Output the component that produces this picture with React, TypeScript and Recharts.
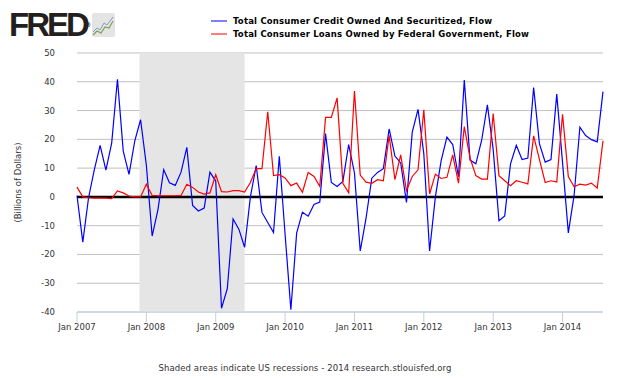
import React from 'react';
import { LineChart, Line, XAxis, YAxis, CartesianGrid, ReferenceArea, ReferenceLine } from 'recharts';

// Monthly flows, Jan 2007 .. Aug 2014 (Billions of Dollars)
const creditSecuritized: number[] = [
  0.5, -15.7, -0.3, 9.5, 17.9, 9.3, 18.7, 40.9, 15.9, 7.8, 19.5, 26.8,
  11, -13.6, -4.5, 9.5, 4.9, 4.0, 8.6, 17.2, -3.0, -4.9, -3.9, 8.6,
  5.5, -38.7, -31.9, -7.7, -11.2, -17.5, 0, 10.9, -5.4, -8.9, -12.4, 14.1,
  -13, -39.2, -12.6, -5.3, -6.7, -2.6, -1.8, 22, 5, 3.6, 5.4, 18.2,
  8.4, -18.8, -7.5, 6.5, 8.5, 9.8, 23.6, 14.2, 11.8, -1.9, 22.5, 30.4,
  15, -18.8, 0, 12.6, 20.8, 18.2, 7, 40.6, 12.8, 11.5, 19.6, 32,
  16.5, -8.3, -6.6, 11.5, 17.9, 13, 13.5, 38, 18.5, 12.1, 13, 35.7,
  12, -12.5, 0.5, 24.2, 21.3, 19.9, 19.1, 36.6,
];

const loansFederal: number[] = [
  3.4, 0, -0.3, -0.4, -0.4, -0.4, -0.6, 2.1, 1.4, 0.3, 0, 0,
  4.4, 0.5, 0.4, 0.4, 0.4, 0.4, 0.5, 4.4, 3.3, 1.7, 1.0, 1.4,
  7.7, 1.8, 1.7, 2.2, 2.2, 1.7, 5, 9.8, 9.8, 29.6, 7.4, 7.7,
  6.6, 3.9, 4.8, 1.6, 8.5, 7.1, 3.7, 27.6, 27.6, 34.4, 4.7, 1.4,
  36.8, 7.6, 5.1, 4.7, 6.0, 5.6, 21.4, 6.0, 14.6, 2.2, 7.1, 9.4,
  30.3, 1.0, 7.9, 6.4, 6.8, 14.6, 4.8, 24.4, 13.5, 7.4, 6.2, 6.2,
  29, 7.4, 5.6, 3.9, 5.6, 5.1, 4.5, 21.2, 13, 5, 5.6, 5.2,
  28.7, 7.1, 3.5, 4.4, 4.1, 4.8, 3.1, 19.5,
];

const xTickIndex: number[] = [0, 12, 24, 36, 48, 60, 72, 84];
const xTickLabels: string[] = ['Jan 2007', 'Jan 2008', 'Jan 2009', 'Jan 2010', 'Jan 2011', 'Jan 2012', 'Jan 2013', 'Jan 2014'];
const yTicks: number[] = [-40, -30, -20, -10, 0, 10, 20, 30, 40, 50];
// Recession: Dec 2007 .. Jun 2009 (month indices)
const recessionStart = 10.8;
const recessionEnd = 29;

const seriesNames = [
  'Total Consumer Credit Owned And Securitized, Flow',
  'Total Consumer Loans Owned by Federal Government, Flow',
];

const data = creditSecuritized.map((v, i) => ({ i, credit: v, federal: loansFederal[i] }));

const font = 'DejaVu Sans, Verdana, sans-serif';

export default function App() {
  return (
    <div style={{ position: 'fixed', left: 0, top: 0, width: 630, height: 378, background: '#fff', fontFamily: font }}>
      <LineChart width={630} height={378} data={data} margin={{ top: 53, right: 27, bottom: 36, left: 0 }}>
        <ReferenceArea x1={recessionStart} x2={recessionEnd} y1={-40} y2={50} fill="#e5e5e5" fillOpacity={1} stroke="none" ifOverflow="hidden" />
        <CartesianGrid vertical={false} stroke="#c0c0c0" strokeDasharray="" />
        <XAxis
          dataKey="i"
          type="number"
          domain={[0, 91]}
          ticks={xTickIndex}
          interval={0}
          tickFormatter={(v: number) => xTickLabels[xTickIndex.indexOf(v)]}
          tickSize={10}
          stroke="#c0d0e0"
          tick={{ fill: '#333', fontSize: 8.5, fontFamily: font }}
          height={30}
        />
        <YAxis
          type="number"
          domain={[-40, 50]}
          ticks={yTicks}
          interval={0}
          axisLine={false}
          tickLine={false}
          tickSize={6}
          tickMargin={16}
          width={77}
          tick={{ fill: '#333', fontSize: 8.5, fontFamily: font }}
          label={{ value: '(Billions of Dollars)', angle: -90, position: 'insideLeft', offset: 18, style: { fill: '#333', fontSize: 8.5, fontFamily: font, textAnchor: 'middle' } }}
        />
        <ReferenceLine y={0} stroke="#000" strokeWidth={2.5} />
        <Line type="linear" dataKey="credit" stroke="#0000ff" strokeWidth={1.2} dot={false} isAnimationActive={false} />
        <Line type="linear" dataKey="federal" stroke="#ff0000" strokeWidth={1.2} dot={false} isAnimationActive={false} />
      </LineChart>

      {/* FRED logo */}
      <div style={{ position: 'absolute', left: 9, top: 5, fontFamily: 'Liberation Sans, Arial, sans-serif', fontWeight: 900, fontSize: 33, letterSpacing: -3, color: '#231f20', lineHeight: '40px' }}>
        FRED<span style={{ fontSize: 5, letterSpacing: 0, verticalAlign: 'bottom' }}>®</span>
      </div>
      <svg style={{ position: 'absolute', left: 92, top: 13 }} width={23} height={24}>
        <rect x={0} y={0} width={23} height={24} rx={2} fill="#e4e4e4" />
        <polyline points="1,19 5,15 8,17 12,10 15,12 21,4" fill="none" stroke="#7f9fbf" strokeWidth={1} />
        <polyline points="1,22 5,18 9,20 13,14 17,15 21,8" fill="none" stroke="#7fa050" strokeWidth={1.2} />
      </svg>

      {/* Legend */}
      {seriesNames.map((name, k) => (
        <div key={name} style={{ position: 'absolute', left: 211, top: 15 + k * 13, height: 12, display: 'flex', alignItems: 'center' }}>
          <div style={{ width: 16, height: 2, background: k === 0 ? '#7f7fff' : '#ff7f7f', marginRight: 6 }} />
          <span style={{ fontSize: 8.5, fontWeight: 'bold', color: '#000', fontFamily: font, letterSpacing: 0.2, whiteSpace: 'nowrap' }}>{name}</span>
        </div>
      ))}

      {/* Footer */}
      <div style={{ position: 'absolute', left: 0, width: 610, top: 363, textAlign: 'center', fontSize: 8.5, color: '#333', fontFamily: font, letterSpacing: 0.1, whiteSpace: 'nowrap' }}>
        Shaded areas indicate US recessions - 2014 research.stlouisfed.org
      </div>
    </div>
  );
}
